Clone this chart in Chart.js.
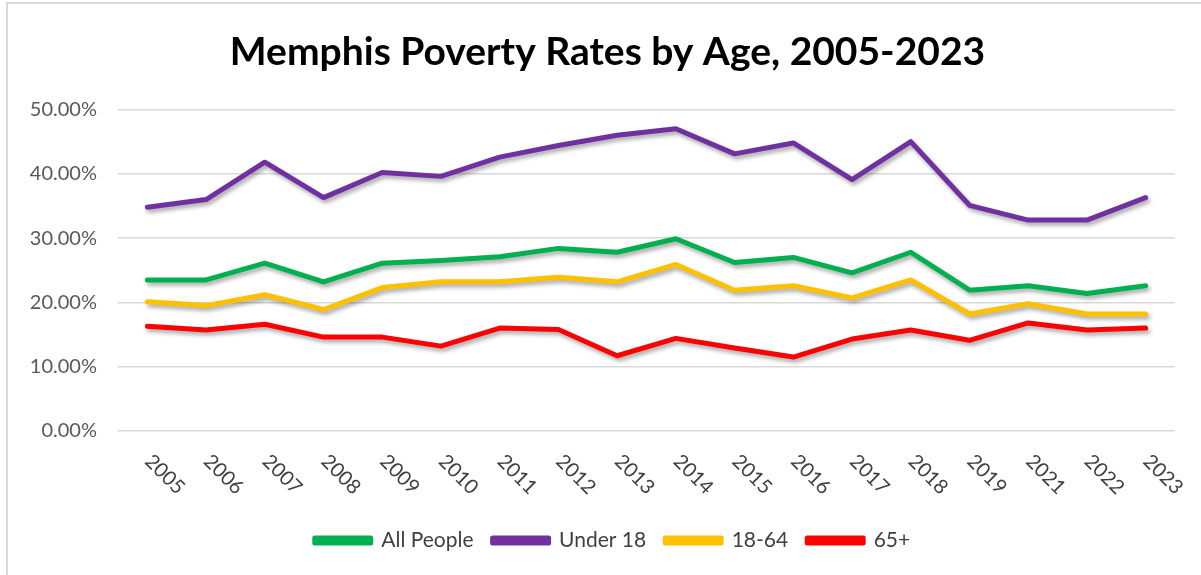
<!DOCTYPE html>
<html>
<head>
<meta charset="utf-8">
<script src="https://cdn.jsdelivr.net/npm/chart.js@4"></script>
<style>
  html, body { margin: 0; padding: 0; background: #fff; }
  #wrap { position: relative; width: 1201px; height: 575px; overflow: hidden; }
  #frame { position: absolute; left: 6px; top: 2px; width: 1300px; height: 700px;
           border-top: 2px solid #D9D9D9; border-left: 2px solid #D9D9D9; }
  canvas { position: absolute; left: 0; top: 0; }
</style>
</head>
<body>
<div id="wrap">
  <div id="frame"></div>
  <canvas id="c" width="1201" height="575"></canvas>
</div>
<script>
const years = ['2005','2006','2007','2008','2009','2010','2011','2012','2013','2014','2015','2016','2017','2018','2019','2021','2022','2023'];
const allPeople = [23.5, 23.5, 26.1, 23.2, 26.1, 26.5, 27.1, 28.4, 27.8, 29.9, 26.2, 27.0, 24.6, 27.8, 21.9, 22.6, 21.4, 22.6];
const under18   = [34.8, 36.0, 41.8, 36.3, 40.2, 39.6, 42.6, 44.4, 46.0, 47.0, 43.1, 44.8, 39.1, 45.0, 35.1, 32.8, 32.8, 36.3];
const age18to64 = [20.1, 19.5, 21.2, 18.9, 22.3, 23.2, 23.2, 23.9, 23.2, 25.9, 21.9, 22.6, 20.7, 23.5, 18.2, 19.8, 18.2, 18.2];
const age65plus = [16.3, 15.7, 16.6, 14.6, 14.6, 13.2, 16.0, 15.8, 11.7, 14.4, 12.9, 11.5, 14.3, 15.7, 14.1, 16.8, 15.7, 16.0];
const yTicks = [0, 10, 20, 30, 40, 50];

const FONT = "Lato, 'Open Sans', sans-serif";

function ds(label, data, color) {
  return {
    label, data,
    borderColor: color, backgroundColor: color,
    borderWidth: 5, borderJoinStyle: 'round', borderCapStyle: 'round',
    pointRadius: 0, pointHoverRadius: 0, tension: 0, fill: false
  };
}

const shadowPlugin = {
  id: 'shadow',
  beforeDatasetsDraw(chart) {
    const ctx = chart.ctx;
    ctx.save();
    ctx.shadowColor = 'rgba(0,0,0,0.35)';
    ctx.shadowBlur = 4;
    ctx.shadowOffsetX = 2;
    ctx.shadowOffsetY = 3;
  },
  afterDatasetsDraw(chart) { chart.ctx.restore(); }
};

// shift the centring boxes of the title and legend to match the original placement
const shiftPlugin = {
  id: 'shift',
  afterLayout(chart) {
    if (chart.titleBlock) chart.titleBlock.left += 40;
    if (chart.legend) chart.legend.left += 50;
  }
};

const xLabelPlugin = {
  id: 'xlabels',
  afterDraw(chart) {
    const ctx = chart.ctx, xs = chart.scales.x;
    ctx.save();
    ctx.font = "20px " + FONT;
    ctx.fillStyle = '#404040';
    ctx.textAlign = 'left';
    ctx.textBaseline = 'middle';
    years.forEach((lab, i) => {
      const x = xs.getPixelForTick(i);
      ctx.save();
      ctx.translate(x + 1, xs.top + 27);
      ctx.rotate(Math.PI / 4);
      ctx.fillText(lab, 0, 0);
      ctx.restore();
    });
    ctx.restore();
  }
};

new Chart(document.getElementById('c'), {
  type: 'line',
  data: {
    labels: years,
    datasets: [
      ds('All People', allPeople, '#00B050'),
      ds('Under 18', under18, '#7030A0'),
      ds('18-64', age18to64, '#FFC000'),
      ds('65+', age65plus, '#FF0000')
    ]
  },
  options: {
    responsive: false,
    animation: false,
    events: [],
    layout: { padding: { left: 0, right: 26, top: 0, bottom: 14 } },
    plugins: {
      title: {
        display: true,
        text: 'Memphis Poverty Rates by Age, 2005-2023',
        color: '#000',
        font: { family: FONT, size: 39, weight: 'bold' },
        padding: { top: 29, bottom: 33.7 }
      },
      legend: {
        position: 'bottom',
        labels: {
          boxWidth: 56, boxHeight: 5,
          padding: 19,
          color: '#404040',
          font: { family: FONT, size: 21 }
        }
      },
      tooltip: { enabled: false }
    },
    scales: {
      x: {
        offset: true,
        grid: { display: false },
        border: { display: false },
        ticks: { display: false },
        afterFit(scale) { scale.height = 80; }
      },
      y: {
        min: 0, max: 50,
        afterBuildTicks(scale) { scale.ticks = yTicks.map(v => ({ value: v })); },
        grid: { color: '#D9D9D9', lineWidth: 1.5, drawTicks: false },
        border: { display: false },
        ticks: {
          padding: 21,
          color: '#595959',
          font: { family: FONT, size: 20 },
          callback: v => v.toFixed(2) + '%'
        },
        afterFit(scale) { scale.width = 118; }
      }
    }
  },
  plugins: [shadowPlugin, shiftPlugin, xLabelPlugin]
});
</script>
</body>
</html>
